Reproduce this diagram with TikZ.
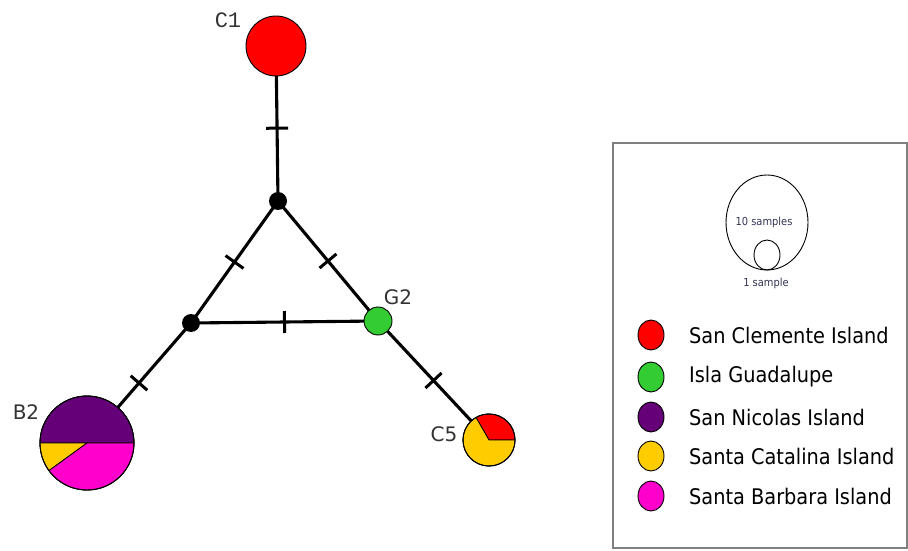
\documentclass[tikz,border=0pt]{standalone}
\usepackage{fontspec}
\setmainfont{DejaVu Sans}
\newfontfamily\condfont{DejaVu Sans Condensed}
\newfontfamily\monofont{Liberation Mono}
\usetikzlibrary{backgrounds,decorations.markings,shapes.geometric}
\definecolor{cred}{HTML}{FF0000}
\definecolor{cgreen}{HTML}{33CC33}
\definecolor{cpurple}{HTML}{650078}
\definecolor{cyellow}{HTML}{FFCC00}
\definecolor{cpink}{HTML}{FF00CC}
\definecolor{labelgray}{HTML}{333333}
\definecolor{smalltxt}{HTML}{333355}
\tikzset{
  hap/.style={circle,draw=black,line width=0.9pt,inner sep=0pt,minimum size=#1},
  median/.style={circle,fill=black,inner sep=0pt,minimum size=18pt},
  edge/.style={line width=3.1pt,
    postaction={decorate,decoration={markings,mark=at position #1 with {\draw[line width=3pt] (0,-11pt) -- (0,11pt);}}}},
  edge/.default=0.5,
  hlabel/.style={text=labelgray,font=\fontsize{20}{20}\selectfont,inner sep=0pt},
  legdot/.style={ellipse,draw=black,line width=0.9pt,inner sep=0pt,minimum width=26pt,minimum height=30pt},
  legtext/.style={anchor=west,inner sep=0pt,font=\condfont\fontsize{21.5}{21.5}\selectfont},
  slice/.style={draw=black,line width=0.8pt}
}
\begin{document}
\begin{tikzpicture}[x=1pt,y=1pt]
\useasboundingbox (0,0) rectangle (908,550);
% haplotype nodes
\node[hap=60pt,fill=cred] (c1) at (276,504) {};
\node[median] (top) at (278,349) {};
\node[median] (left) at (191,227) {};
\node[hap=28pt,fill=cgreen] (g2) at (378,229) {};
\node[hap=94pt] (b2) at (87,107) {};
\node[hap=52pt] (c5) at (489,110) {};
% pie slices B2
\filldraw[slice,fill=cpurple] (b2.center) -- ++(0:47) arc (0:180:47) -- cycle;
\filldraw[slice,fill=cyellow] (b2.center) -- ++(180:47) arc (180:216:47) -- cycle;
\filldraw[slice,fill=cpink] (b2.center) -- ++(216:47) arc (216:360:47) -- cycle;
\draw[line width=0.9pt] (b2.center) circle (47);
% pie slices C5
\filldraw[slice,fill=cred] (c5.center) -- ++(0:26) arc (0:120:26) -- cycle;
\filldraw[slice,fill=cyellow] (c5.center) -- ++(120:26) arc (120:360:26) -- cycle;
\draw[line width=0.9pt] (c5.center) circle (26);
% edges
\begin{scope}[on background layer]
\draw[edge=0.53] (c1.center) -- (top.center);
\draw[edge] (top.center) -- (left.center);
\draw[edge] (top.center) -- (g2.center);
\draw[edge] (left.center) -- (g2.center);
\draw[edge] (left.center) -- (b2.center);
\draw[edge] (g2.center) -- (c5.center);
\end{scope}
% labels
\node[hlabel,font=\monofont\fontsize{22}{22}\selectfont] (lc1) at (228,530) {C1};
\node[hlabel] (lg2) at (398,253) {G2};
\node[hlabel] (lb2) at (26,138) {B2};
\node[hlabel] (lc5) at (444,116) {C5};
% legend
\node[draw=gray,line width=1.5pt,minimum width=294pt,minimum height=405pt,inner sep=0pt] (legend) at (760,204.5) {};
\node[ellipse,draw=black,line width=0.9pt,minimum width=82pt,minimum height=95pt,inner sep=0pt] (big) at (767,327.5) {};
\node[ellipse,draw=black,line width=0.9pt,minimum width=26pt,minimum height=30pt,inner sep=0pt] (small) at (767,295) {};
\node[text=smalltxt,font=\condfont\fontsize{11}{11}\selectfont,inner sep=0pt] (t10) at (764,328) {10 samples};
\node[text=smalltxt,font=\condfont\fontsize{11}{11}\selectfont,inner sep=0pt] (t1) at (766,267) {1 sample};
\node[legdot,fill=cred] (d1) at (651,215) {};
\node[legdot,fill=cgreen] (d2) at (651,173) {};
\node[legdot,fill=cpurple] (d3) at (651,133) {};
\node[legdot,fill=cyellow] (d4) at (651,94) {};
\node[legdot,fill=cpink] (d5) at (651,54) {};
\node[legtext] (l1) at (689,215) {San Clemente Island};
\node[legtext] (l2) at (689,173) {Isla Guadalupe};
\node[legtext] (l3) at (689,133) {San Nicolas Island};
\node[legtext] (l4) at (689,94) {Santa Catalina Island};
\node[legtext] (l5) at (689,54) {Santa Barbara Island};
\end{tikzpicture}
\end{document}
